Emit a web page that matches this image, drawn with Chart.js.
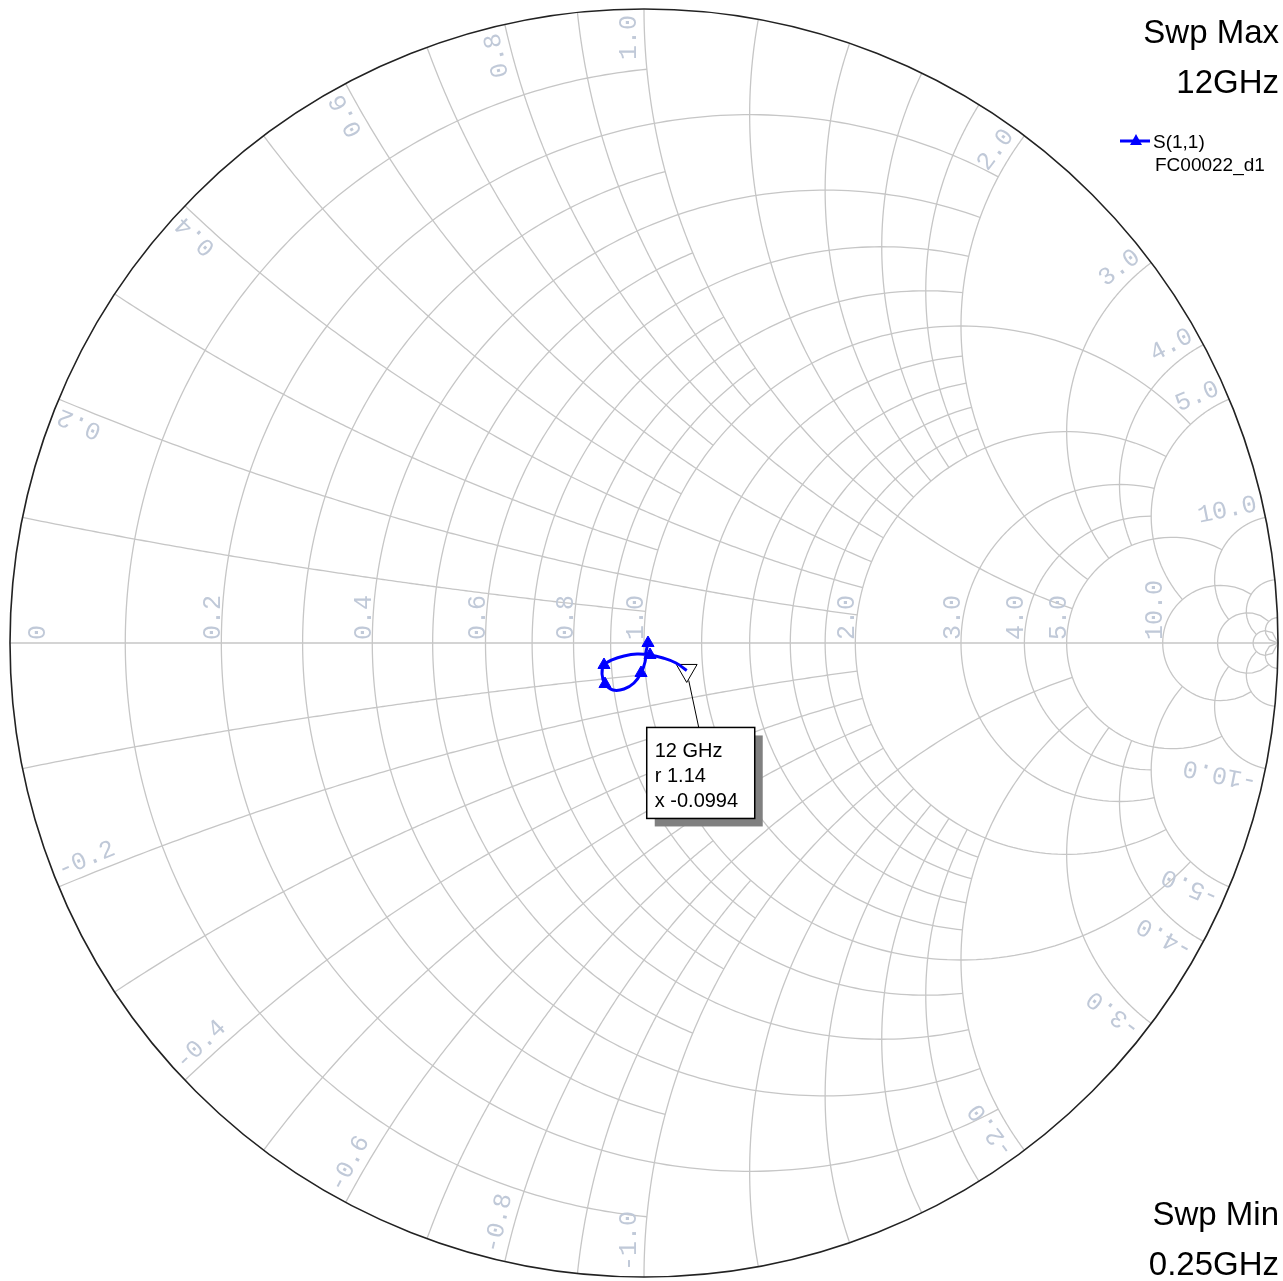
<!DOCTYPE html>
<html>
<head>
<meta charset="utf-8">
<script src="https://cdn.jsdelivr.net/npm/chart.js@4.4.0/dist/chart.umd.min.js"></script>
<style>
  html, body { margin: 0; padding: 0; background: #fff; overflow: hidden; }
</style>
</head>
<body>
<canvas id="smithChart" width="1283" height="1281"></canvas>
<script>
const freqGHz = [0.25, 0.98, 1.72, 2.45, 3.19, 3.92, 4.66, 5.39, 6.13, 6.86, 7.59, 8.33, 9.06, 9.80, 10.53, 11.27, 12.0];
const s11Re = [0.0063, 0.0032, 0.0016, -0.0047, -0.0158, -0.0315, -0.0489, -0.0615, -0.0662, -0.0631, -0.0505, -0.0315, -0.0110, 0.0095, 0.0300, 0.0505, 0.0674];
const s11Im = [0.0000, -0.0142, -0.0300, -0.0473, -0.0631, -0.0726, -0.0741, -0.0647, -0.0489, -0.0347, -0.0268, -0.0205, -0.0174, -0.0189, -0.0237, -0.0315, -0.0433];
const symbolIdx = [0, 3, 7, 9, 13];

// marker readout at the last point
const markerLines = ['12 GHz', 'r 1.14', 'x -0.0994'];

// grid circles, grouped by how far each one runs along the other family
const gridOddTenths = [0.1, 0.3, 0.5, 0.7, 0.9];   // up to 1
const gridEvenTenths = [0.2, 0.4, 0.6, 0.8];       // up to 2
const gridOneToTwo = [1.2, 1.4, 1.6, 1.8];         // up to 2
const gridLimits = [
    [gridOddTenths, 1],
    [gridEvenTenths, 2],
    [[1.0], 5],
    [gridOneToTwo, 2],
    [[2.0], 5],
    [[3.0, 4.0], 5],
    [[5.0], 10],
    [[10.0], 20],
    [[20.0], 50],
    [[50.0], Infinity]
];

// tick labels
const realAxisLabels = [0, 0.2, 0.4, 0.6, 0.8, 1.0, 2.0, 3.0, 4.0, 5.0, 10.0];
const rimLabels = [0.2, 0.4, 0.6, 0.8, 1.0, 2.0, 3.0, 4.0, 5.0, 10.0];

const gridColor = '#c6c6c6';
const labelColor = '#c0c9d8';
const traceColor = '#0000ff';

// z -> gamma
function gamma(r, x) {
    const a = r - 1, c = r + 1;
    const den = c * c + x * x;
    return [(a * c + x * x) / den, (x * c - a * x) / den];
}

function strokePath(ctx, chart, pts) {
    const sx = chart.scales.x, sy = chart.scales.y;
    ctx.beginPath();
    pts.forEach((p, i) => {
        const X = sx.getPixelForValue(p[0]);
        const Y = sy.getPixelForValue(p[1]);
        if (i === 0) ctx.moveTo(X, Y); else ctx.lineTo(X, Y);
    });
    ctx.stroke();
}

function resistanceCircle(r, lim) {
    const pts = [];
    const tMax = Math.atan(lim);
    for (let i = 0; i <= 300; i++) {
        const t = -tMax + (2 * tMax) * i / 300;
        pts.push(gamma(r, Math.tan(t)));
    }
    return pts;
}

function reactanceArc(x, lim) {
    const pts = [];
    const tMax = Math.atan(lim);
    for (let i = 0; i <= 200; i++) {
        const t = tMax * i / 200;
        pts.push(gamma(Math.tan(t), x));
    }
    return pts;
}

const smithGrid = {
    id: 'smithGrid',
    beforeDatasetsDraw(chart) {
        const ctx = chart.ctx;
        const sx = chart.scales.x, sy = chart.scales.y;
        const cx = sx.getPixelForValue(0), cy = sy.getPixelForValue(0);
        const R = sx.getPixelForValue(1) - cx;

        ctx.save();
        ctx.strokeStyle = gridColor;
        ctx.lineWidth = 1.3;
        gridLimits.forEach(([vals, lim]) => {
            vals.forEach(v => {
                strokePath(ctx, chart, resistanceCircle(v, lim));
                strokePath(ctx, chart, reactanceArc(v, lim));
                strokePath(ctx, chart, reactanceArc(-v, lim));
            });
        });
        // real axis
        ctx.beginPath();
        ctx.moveTo(cx - R, cy);
        ctx.lineTo(cx + R, cy);
        ctx.stroke();

        // outer circle
        ctx.strokeStyle = '#222';
        ctx.lineWidth = 1.6;
        ctx.beginPath();
        ctx.arc(cx, cy, R, 0, Math.PI * 2);
        ctx.stroke();

        // labels
        ctx.fillStyle = labelColor;
        ctx.font = '25px "Liberation Mono", "DejaVu Sans Mono", monospace';
        ctx.textBaseline = 'alphabetic';
        realAxisLabels.forEach(v => {
            const txt = v === 0 ? '0' : v.toFixed(1);
            let X = sx.getPixelForValue((v - 1) / (v + 1)) - 1;
            if (v === 0) X += 36;
            ctx.save();
            ctx.translate(X, cy - 3);
            ctx.rotate(-Math.PI / 2);
            ctx.textAlign = 'left';
            ctx.fillText(txt, 0, 0);
            ctx.restore();
        });
        rimLabels.forEach(v => {
            const th = Math.PI - 2 * Math.atan(v);
            const rad = R - 6, off = 8;
            // upper half, reads outward
            let ux = Math.cos(th), uy = -Math.sin(th);
            let px = -Math.sin(th), py = -Math.cos(th);
            ctx.save();
            ctx.translate(cx + ux * rad + px * off, cy + uy * rad + py * off);
            ctx.rotate(-th);
            ctx.textAlign = 'right';
            ctx.fillText(v.toFixed(1), 0, 0);
            ctx.restore();
            // lower half, reads inward
            uy = Math.sin(th);
            py = Math.cos(th);
            ctx.save();
            ctx.translate(cx + ux * rad + px * off, cy + uy * rad + py * off);
            ctx.rotate(Math.PI + th);
            ctx.textAlign = 'left';
            ctx.fillText('-' + v.toFixed(1), 0, 0);
            ctx.restore();
        });
        ctx.restore();
    }
};

const readouts = {
    id: 'readouts',
    afterDatasetsDraw(chart) {
        const ctx = chart.ctx;
        const last = s11Re.length - 1;
        const mx = chart.scales.x.getPixelForValue(s11Re[last]);
        const my = chart.scales.y.getPixelForValue(s11Im[last]);

        // marker box with shadow
        const bx = mx - 40, by = my + 57, bw = 108, bh = 91;
        ctx.save();
        ctx.strokeStyle = '#000';
        ctx.lineWidth = 1;
        ctx.beginPath();
        ctx.moveTo(mx + 2, my + 10);
        ctx.lineTo(mx + 12, by);
        ctx.stroke();
        ctx.fillStyle = '#808080';
        ctx.fillRect(bx + 8, by + 8, bw, bh);
        ctx.fillStyle = '#fff';
        ctx.fillRect(bx, by, bw, bh);
        ctx.lineWidth = 1.5;
        ctx.strokeRect(bx, by, bw, bh);
        ctx.fillStyle = '#000';
        ctx.font = '20px "Liberation Sans", Arial, sans-serif';
        ctx.textAlign = 'left';
        ctx.textBaseline = 'alphabetic';
        markerLines.forEach((t, i) => ctx.fillText(t, bx + 8, by + 30 + i * 25));

        // sweep notes
        ctx.textAlign = 'right';
        ctx.font = '33px "Liberation Sans", Arial, sans-serif';
        ctx.fillText('Swp Max', 1279, 43);
        ctx.fillText(freqGHz[last] + 'GHz', 1279, 93);
        ctx.fillText('Swp Min', 1279, 1225);
        ctx.fillText(freqGHz[0] + 'GHz', 1279, 1275);

        // legend
        ctx.strokeStyle = traceColor;
        ctx.lineWidth = 3;
        ctx.beginPath();
        ctx.moveTo(1120, 141);
        ctx.lineTo(1150, 141);
        ctx.stroke();
        ctx.fillStyle = traceColor;
        ctx.beginPath();
        ctx.moveTo(1136, 134);
        ctx.lineTo(1142, 145);
        ctx.lineTo(1130, 145);
        ctx.closePath();
        ctx.fill();
        ctx.fillStyle = '#000';
        ctx.textAlign = 'left';
        ctx.font = '19px "Liberation Sans", Arial, sans-serif';
        ctx.fillText('S(1,1)', 1153, 148);
        ctx.fillText('FC00022_d1', 1155, 171);
        ctx.restore();
    }
};

document.addEventListener('DOMContentLoaded', function() {
    const ctx = document.getElementById('smithChart').getContext('2d');
    const last = s11Re.length - 1;

    new Chart(ctx, {
        type: 'scatter',
        data: {
            datasets: [{
                label: 'S(1,1)',
                data: s11Re.map((re, i) => ({ x: re, y: s11Im[i] })),
                showLine: true,
                borderColor: traceColor,
                backgroundColor: traceColor,
                borderWidth: 3,
                tension: 0.4,
                pointStyle: 'triangle',
                pointRadius: c => symbolIdx.includes(c.dataIndex) ? 7 : 0,
                pointBorderWidth: 1
            }, {
                label: 'marker',
                data: [{ x: s11Re[last], y: s11Im[last] }],
                pointStyle: 'triangle',
                rotation: 180,
                pointRadius: 12,
                backgroundColor: 'rgba(255,255,255,0)',
                borderColor: '#000',
                borderWidth: 1
            }]
        },
        options: {
            responsive: false,
            animation: false,
            layout: { autoPadding: false, padding: { left: 10, right: 5, top: 9, bottom: 4 } },
            scales: {
                x: { type: 'linear', min: -1, max: 1, display: false },
                y: { type: 'linear', min: -1, max: 1, display: false }
            },
            plugins: { legend: { display: false }, tooltip: { enabled: false } }
        },
        plugins: [smithGrid, readouts]
    });
});
</script>
</body>
</html>
